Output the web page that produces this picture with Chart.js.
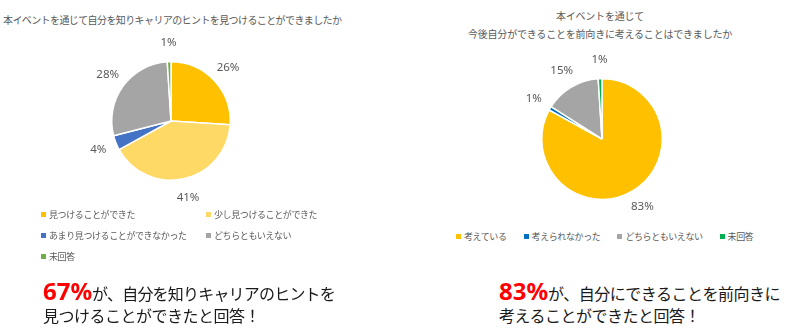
<!DOCTYPE html>
<html>
<head>
<meta charset="utf-8">
<script src="https://cdn.jsdelivr.net/npm/chart.js@4"></script>
<style>
  body { margin: 0; width: 800px; height: 330px; background: #fff; position: relative; overflow: hidden;
         font-family: "Noto Sans CJK JP", "Noto Sans", sans-serif; color: #595959; }
  .abs { position: absolute; }
  .title { font-size: 10px; white-space: nowrap; letter-spacing: -0.2px; }
  .legend { font-size: 9px; letter-spacing: -0.4px; white-space: nowrap; }
  .legend .item { display: flex; align-items: center; height: 21px; }
  .legend .sw { width: 5px; height: 5px; margin-right: 3px; flex: none; }
  .big { font-size: 16px; color: #1a1a1a; white-space: nowrap; letter-spacing: -0.5px; }
  .big .hl { color: #ff0000; font-weight: bold; font-size: 24px; letter-spacing: 0; font-family: "Noto Sans", sans-serif; }
</style>
</head>
<body>
<div class="abs title" style="left:3px; top:12px; letter-spacing:-0.6px;">本イベントを通じて自分を知りキャリアのヒントを見つけることができましたか</div>
<canvas id="pie1" class="abs" width="400" height="225" style="left:0; top:0;"></canvas>
<div id="legend1" class="abs legend" style="left:41px; top:204px; display:grid; grid-template-columns:165px auto;"></div>

<div class="abs title" style="left:400px; width:400px; top:7px; text-align:center; line-height:18px;">本イベントを通じて<br>今後自分ができることを前向きに考えることはできましたか</div>
<canvas id="pie2" class="abs" width="400" height="225" style="left:400px; top:0;"></canvas>
<div id="legend2" class="abs legend" style="left:456px; top:226px; display:flex; gap:17px;"></div>

<div class="abs big" style="left:43px; top:278px; line-height:26px; letter-spacing:-0.8px;"><span class="hl">67%</span>が、自分を知りキャリアのヒントを</div>
<div class="abs big" style="left:43px; top:304px; line-height:22px;">見つけることができたと回答！</div>
<div class="abs big" style="left:499px; top:278px; line-height:26px;"><span class="hl">83%</span>が、自分にできることを前向きに</div>
<div class="abs big" style="left:499px; top:304px; line-height:22px;">考えることができたと回答！</div>

<script>
// Q1: 自分を知りキャリアのヒントを見つけることができたか
const q1Labels = ['見つけることができた', '少し見つけることができた', 'あまり見つけることができなかった', 'どちらともいえない', '未回答'];
const q1Values = [26, 41, 4, 28, 1];
const q1Colors = ['#FFC000', '#FFD966', '#4472C4', '#A5A5A5', '#70AD47'];

// Q2: 今後自分ができることを前向きに考えることはできたか
const q2Labels = ['考えている', '考えられなかった', 'どちらともいえない', '未回答'];
const q2Values = [83, 1, 15, 1];
const q2Colors = ['#FFC000', '#0070C0', '#A5A5A5', '#00B050'];

// percentage labels just outside each slice
const outsideLabels = {
  id: 'outsideLabels',
  afterDatasetsDraw(chart) {
    const ctx = chart.ctx;
    const meta = chart.getDatasetMeta(0);
    ctx.save();
    ctx.font = '11.5px "Noto Sans", sans-serif';
    ctx.fillStyle = '#595959';
    ctx.textAlign = 'center';
    ctx.textBaseline = 'middle';
    meta.data.forEach((arc, i) => {
      const p = arc.getProps(['x', 'y', 'startAngle', 'endAngle', 'outerRadius'], true);
      const mid = (p.startAngle + p.endAngle) / 2;
      const d = p.outerRadius + 19;
      ctx.fillText(chart.data.datasets[0].data[i] + '%', p.x + Math.cos(mid) * d, p.y + Math.sin(mid) * d);
    });
    ctx.restore();
  }
};

function makePie(id, labels, values, colors, padding) {
  return new Chart(document.getElementById(id), {
    type: 'pie',
    data: {
      labels: labels,
      datasets: [{
        data: values,
        backgroundColor: colors,
        borderColor: '#ffffff',
        borderWidth: 1.5
      }]
    },
    options: {
      responsive: false,
      animation: false,
      layout: { padding: padding },
      plugins: {
        legend: { display: false },
        tooltip: { enabled: false }
      }
    },
    plugins: [outsideLabels]
  });
}

function makeLegend(id, labels, colors) {
  const box = document.getElementById(id);
  labels.forEach((label, i) => {
    const item = document.createElement('div');
    item.className = 'item';
    item.innerHTML = '<span class="sw" style="background:' + colors[i] + '"></span><span>' + label + '</span>';
    box.appendChild(item);
  });
}

makePie('pie1', q1Labels, q1Values, q1Colors, { left: 111, right: 169, top: 61, bottom: 44 });
makePie('pie2', q2Labels, q2Values, q2Colors, { left: 141, right: 137, top: 78, bottom: 25 });
makeLegend('legend1', q1Labels, q1Colors);
makeLegend('legend2', q2Labels, q2Colors);
</script>
</body>
</html>
